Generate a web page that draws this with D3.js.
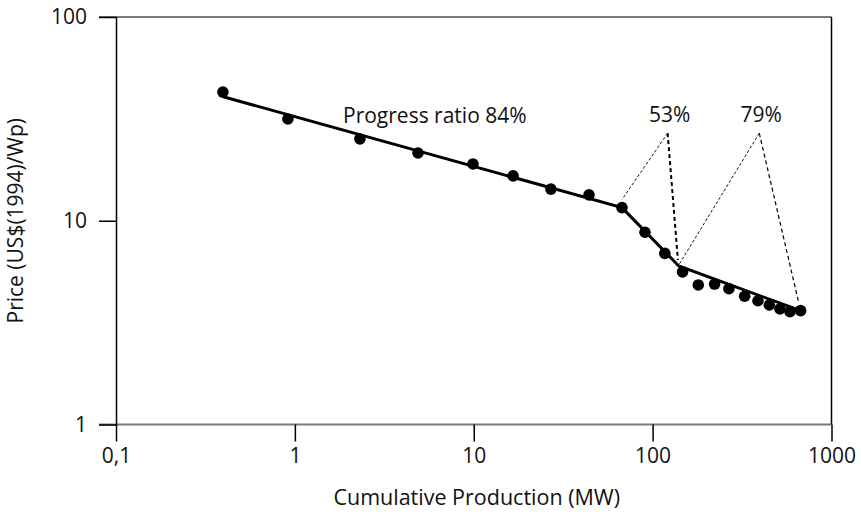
<!DOCTYPE html>
<html>
<head>
<meta charset="utf-8">
<script src="https://cdn.jsdelivr.net/npm/d3@7"></script>
<style>
  body { margin: 0; background: #fff; }
  text { font-family: "Open Sans", sans-serif; fill: #111; }
</style>
</head>
<body>
<div id="chart"></div>
<script>
// cumulative production (MW) and price (US$(1994)/Wp)
var production = [0.396, 0.914, 2.31, 4.88, 9.9, 16.6, 27.0, 44.1, 67.4, 90.6, 117, 147,
                  180, 222, 267, 327, 388, 449, 515, 586, 672];
var price = [42.8, 31.6, 25.2, 21.5, 19.0, 16.6, 14.3, 13.4, 11.6, 8.78, 6.92, 5.61,
             4.84, 4.89, 4.64, 4.26, 4.05, 3.86, 3.69, 3.58, 3.62];

// fitted experience curve, three segments
var fitX = [0.398, 67.4, 140, 672];
var fitY = [40.6, 11.6, 6.0, 3.62];

var xTicks = [0.1, 1, 10, 100, 1000];
var xTickLabels = ["0,1", "1", "10", "100", "1000"];
var yTicks = [1, 10, 100];

// annotation leader lines (apex near the label, two ends on the curve)
var noteLabels = ["53%", "79%"];
var noteApexX = [121.3, 394.6];
var noteApexY = [26.9, 26.9];
var noteLeftX = [67.4, 140];
var noteLeftY = [12.7, 6.06];
var noteRightX = [138.5, 652];
var noteRightY = [6.42, 4.05];

var width = 861, height = 523;
var plotLeft = 116, plotRight = 831.5, plotTop = 17, plotBottom = 424.5;

var svg = d3.select("#chart").append("svg")
    .attr("width", width)
    .attr("height", height);

var x = d3.scaleLog().domain([0.1, 1000]).range([plotLeft, plotRight]);
var y = d3.scaleLog().domain([1, 100]).range([plotBottom, plotTop]);

// grey lines at 1 and 100
svg.selectAll(".hgrid")
    .data([1, 100])
    .enter().append("line")
    .attr("x1", plotLeft - 17)
    .attr("x2", plotRight)
    .attr("y1", function(d) { return y(d); })
    .attr("y2", function(d) { return y(d); })
    .attr("stroke", "#7a7a7a")
    .attr("stroke-width", 2);

// y axis
var yAxis = d3.axisLeft(y)
    .tickValues(yTicks)
    .tickFormat(d3.format("d"))
    .tickSize(17)
    .tickPadding(12);
var gy = svg.append("g")
    .attr("transform", "translate(" + plotLeft + ",0)")
    .call(yAxis);
gy.select(".domain").attr("stroke", "#000").attr("stroke-width", 1.5);
gy.selectAll(".tick line").attr("stroke", function(d) { return d == 10 ? "#000" : "none"; }).attr("stroke-width", 1.5);
gy.selectAll(".tick text").attr("font-size", 21).attr("font-family", "Open Sans").attr("fill", "#111");

// x axis
var xAxis = d3.axisBottom(x)
    .tickValues(xTicks)
    .tickFormat(function(d, i) { return xTickLabels[i]; })
    .tickSize(17)
    .tickPadding(7);
var gx = svg.append("g")
    .attr("transform", "translate(0," + plotBottom + ")")
    .call(xAxis);
gx.select(".domain").remove();
gx.selectAll(".tick line").attr("stroke", "#000").attr("stroke-width", 1.5);
gx.selectAll(".tick text").attr("font-size", 21).attr("font-family", "Open Sans").attr("fill", "#111");

// right border
svg.append("line")
    .attr("x1", plotRight).attr("x2", plotRight)
    .attr("y1", plotTop).attr("y2", plotBottom)
    .attr("stroke", "#000")
    .attr("stroke-width", 1.5);

// fitted line
var fit = fitX.map(function(d, i) { return [d, fitY[i]]; });
svg.append("path")
    .attr("d", d3.line().x(function(d) { return x(d[0]); }).y(function(d) { return y(d[1]); })(fit))
    .attr("fill", "none")
    .attr("stroke", "#000")
    .attr("stroke-width", 3);

// data points
svg.selectAll(".pt")
    .data(production)
    .enter().append("circle")
    .attr("cx", function(d) { return x(d); })
    .attr("cy", function(d, i) { return y(price[i]); })
    .attr("r", 5.8)
    .attr("fill", "#000");

// annotation leaders
noteLabels.forEach(function(label, i) {
    svg.append("line")
        .attr("x1", x(noteApexX[i])).attr("y1", y(noteApexY[i]))
        .attr("x2", x(noteLeftX[i])).attr("y2", y(noteLeftY[i]))
        .attr("stroke", "#000")
        .attr("stroke-width", 0.9)
        .attr("stroke-dasharray", "3,2");
    svg.append("line")
        .attr("x1", x(noteApexX[i])).attr("y1", y(noteApexY[i]))
        .attr("x2", x(noteRightX[i])).attr("y2", y(noteRightY[i]))
        .attr("stroke", "#000")
        .attr("stroke-width", i == 0 ? 2 : 1.2)
        .attr("stroke-dasharray", "4,3");
    svg.append("text")
        .attr("x", x(noteApexX[i]) + 2)
        .attr("y", y(noteApexY[i]) - 11)
        .attr("text-anchor", "middle")
        .attr("font-size", 21)
        .text(label);
});

svg.append("text")
    .attr("x", 343)
    .attr("y", 123)
    .attr("font-size", 21)
    .text("Progress ratio 84%");

// axis titles
svg.append("text")
    .attr("x", (plotLeft + plotRight) / 2 + 3)
    .attr("y", 505)
    .attr("text-anchor", "middle")
    .attr("font-size", 21.5)
    .text("Cumulative Production (MW)");

svg.append("text")
    .attr("transform", "translate(23," + ((plotTop + plotBottom) / 2) + ") rotate(-90)")
    .attr("text-anchor", "middle")
    .attr("font-size", 21)
    .text("Price (US$(1994)/Wp)");
</script>
</body>
</html>
